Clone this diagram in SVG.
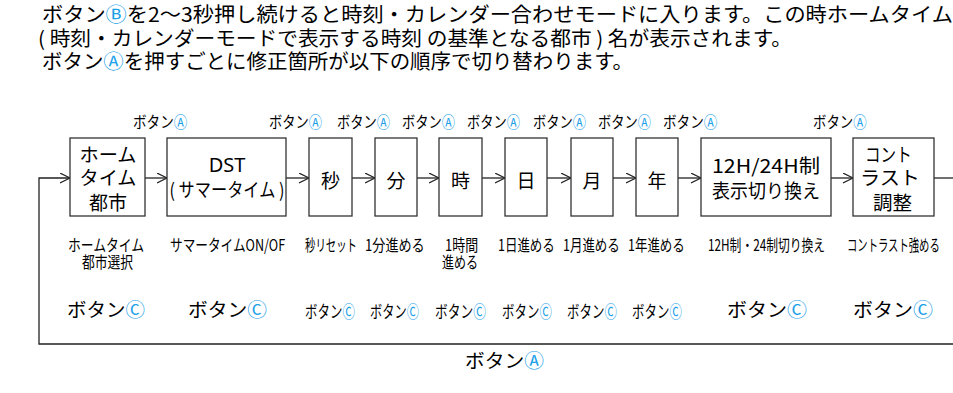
<svg xmlns="http://www.w3.org/2000/svg" width="953" height="393" viewBox="0 0 953 393">
<defs>
<marker id="ah" markerUnits="userSpaceOnUse" markerWidth="12" markerHeight="12" refX="10" refY="5" orient="auto">
<path d="M0,0 L10,5 L0,10" fill="none" stroke="#222" stroke-width="1.2"/>
</marker>
</defs>
<style>
text{font-family:"Noto Sans CJK JP","Liberation Sans",sans-serif;fill:#000}
.top{font-size:20px}
.node{font-size:19px;text-anchor:middle}
.nl{font-size:19px}
.box{fill:#fff;stroke:#333;stroke-width:1.3}
.ln{fill:none;stroke:#222;stroke-width:1.3}
.bA{font-size:16px}
.lab{font-size:16px}
.bC{font-size:19px}
.bCs{font-size:17px}
.c{fill:#1DA1E8}
</style>
<rect width="953" height="393" fill="#fff"/>
<g id="intro">
<text class="top" x="42" y="22" textLength="911" lengthAdjust="spacingAndGlyphs">ボタン<tspan class="c">Ⓑ</tspan>を2～3秒押し続けると時刻・カレンダー合わせモードに入ります。この時ホームタイム</text>
<text class="top" x="38" y="46" textLength="754" lengthAdjust="spacingAndGlyphs">( 時刻・カレンダーモードで表示する時刻 の基準となる都市 ) 名が表示されます。</text>
<text class="top" x="42" y="69" textLength="591" lengthAdjust="spacingAndGlyphs">ボタン<tspan class="c">Ⓐ</tspan>を押すごとに修正箇所が以下の順序で切り替わります。</text>
</g>
<g id="connectors">
<path class="ln" d="M953,344 H39 V178 H70" marker-end="url(#ah)"/>
<line class="ln" x1="145" y1="178" x2="167" y2="178" marker-end="url(#ah)"/>
<line class="ln" x1="286" y1="178" x2="309" y2="178" marker-end="url(#ah)"/>
<line class="ln" x1="352" y1="178" x2="375" y2="178" marker-end="url(#ah)"/>
<line class="ln" x1="417" y1="178" x2="439" y2="178" marker-end="url(#ah)"/>
<line class="ln" x1="482" y1="178" x2="505" y2="178" marker-end="url(#ah)"/>
<line class="ln" x1="547" y1="178" x2="571" y2="178" marker-end="url(#ah)"/>
<line class="ln" x1="613" y1="178" x2="636" y2="178" marker-end="url(#ah)"/>
<line class="ln" x1="678" y1="178" x2="701" y2="178" marker-end="url(#ah)"/>
<line class="ln" x1="831" y1="178" x2="853" y2="178" marker-end="url(#ah)"/>
<line class="ln" x1="934" y1="178" x2="953" y2="178"/>
<g id="labels-A">
<text class="bA" transform="translate(133,128) scale(0.85,1)">ボタン<tspan class="c">Ⓐ</tspan></text>
<text class="bA" transform="translate(269,128) scale(0.83,1)">ボタン<tspan class="c">Ⓐ</tspan></text>
<text class="bA" transform="translate(337,128) scale(0.83,1)">ボタン<tspan class="c">Ⓐ</tspan></text>
<text class="bA" transform="translate(402,128) scale(0.83,1)">ボタン<tspan class="c">Ⓐ</tspan></text>
<text class="bA" transform="translate(467,128) scale(0.83,1)">ボタン<tspan class="c">Ⓐ</tspan></text>
<text class="bA" transform="translate(533,128) scale(0.83,1)">ボタン<tspan class="c">Ⓐ</tspan></text>
<text class="bA" transform="translate(598,128) scale(0.83,1)">ボタン<tspan class="c">Ⓐ</tspan></text>
<text class="bA" transform="translate(663,128) scale(0.85,1)">ボタン<tspan class="c">Ⓐ</tspan></text>
<text class="bA" transform="translate(813,128) scale(0.84,1)">ボタン<tspan class="c">Ⓐ</tspan></text>
<text class="bC" x="465" y="368" textLength="79" lengthAdjust="spacingAndGlyphs">ボタン<tspan class="c">Ⓐ</tspan></text>
</g>
</g>
<g id="n-home">
<rect class="box" x="70" y="138" width="75" height="78"/>
<text class="node" x="108" y="162" textLength="57" lengthAdjust="spacingAndGlyphs">ホーム</text>
<text class="node" x="108" y="185" textLength="57" lengthAdjust="spacingAndGlyphs">タイム</text>
<text class="node" x="108" y="210">都市</text>
<text class="lab" transform="translate(68,251) scale(0.80,1)">ホームタイム</text>
<text class="lab" transform="translate(82,268) scale(0.80,1)">都市選択</text>
<text class="bC" x="67" y="317" textLength="78" lengthAdjust="spacingAndGlyphs">ボタン<tspan class="c">Ⓒ</tspan></text>
</g>
<g id="n-dst">
<rect class="box" x="167" y="138" width="119" height="78"/>
<text class="node" x="227" y="172" style="font-family:'Noto Sans','Liberation Sans',sans-serif;font-size:20px">DST</text>
<text class="node" x="227" y="197" textLength="115" lengthAdjust="spacingAndGlyphs">( サマータイム )</text>
<text class="lab" transform="translate(170,251) scale(0.79,1)">サマータイムON/OF</text>
<text class="bC" x="188" y="317" textLength="79" lengthAdjust="spacingAndGlyphs">ボタン<tspan class="c">Ⓒ</tspan></text>
</g>
<g id="n-sec">
<rect class="box" x="309" y="138" width="43" height="78"/>
<text class="node" x="330.5" y="188">秒</text>
<text class="lab" transform="translate(305,251) scale(0.65,1)">秒リセット</text>
<text class="bCs" transform="translate(305,318) scale(0.735,1)">ボタン<tspan class="c">Ⓒ</tspan></text>
</g>
<g id="n-min">
<rect class="box" x="375" y="138" width="42" height="78"/>
<text class="node" x="396" y="188">分</text>
<text class="lab" transform="translate(365,251) scale(0.82,1)">1分進める</text>
<text class="bCs" transform="translate(370,318) scale(0.72,1)">ボタン<tspan class="c">Ⓒ</tspan></text>
</g>
<g id="n-hour">
<rect class="box" x="439" y="138" width="43" height="78"/>
<text class="node" x="460.5" y="188">時</text>
<text class="lab" transform="translate(445,251) scale(0.81,1)">1時間</text>
<text class="lab" transform="translate(442,268) scale(0.75,1)">進める</text>
<text class="bCs" transform="translate(435,318) scale(0.75,1)">ボタン<tspan class="c">Ⓒ</tspan></text>
</g>
<g id="n-day">
<rect class="box" x="505" y="138" width="42" height="78"/>
<text class="node" x="526" y="188">日</text>
<text class="lab" transform="translate(498,251) scale(0.78,1)">1日進める</text>
<text class="bCs" transform="translate(502,318) scale(0.735,1)">ボタン<tspan class="c">Ⓒ</tspan></text>
</g>
<g id="n-month">
<rect class="box" x="571" y="138" width="42" height="78"/>
<text class="node" x="592" y="188">月</text>
<text class="lab" transform="translate(563,251) scale(0.78,1)">1月進める</text>
<text class="bCs" transform="translate(567,318) scale(0.735,1)">ボタン<tspan class="c">Ⓒ</tspan></text>
</g>
<g id="n-year">
<rect class="box" x="636" y="138" width="42" height="78"/>
<text class="node" x="657" y="188">年</text>
<text class="lab" transform="translate(628,251) scale(0.78,1)">1年進める</text>
<text class="bCs" transform="translate(632,318) scale(0.735,1)">ボタン<tspan class="c">Ⓒ</tspan></text>
</g>
<g id="n-1224">
<rect class="box" x="701" y="138" width="130" height="78"/>
<text class="node" x="766" y="173" textLength="108" lengthAdjust="spacingAndGlyphs">12H/24H制</text>
<text class="node" x="766" y="198" textLength="108" lengthAdjust="spacingAndGlyphs">表示切り換え</text>
<text class="lab" transform="translate(708,251) scale(0.736,1)">12H制・24制切り換え</text>
<text class="bC" x="727" y="317" textLength="80" lengthAdjust="spacingAndGlyphs">ボタン<tspan class="c">Ⓒ</tspan></text>
</g>
<g id="n-contrast">
<rect class="box" x="853" y="138" width="81" height="78"/>
<text class="nl" transform="translate(865,162) scale(0.82,1)" letter-spacing="0">コント</text>
<text class="nl" x="860" y="185" textLength="60" lengthAdjust="spacingAndGlyphs">ラスト</text>
<text class="nl" x="873" y="210" textLength="39" lengthAdjust="spacingAndGlyphs">調整</text>
<text class="lab" transform="translate(847,251) scale(0.646,1)">コントラスト強める</text>
<text class="bC" x="853" y="317" textLength="80" lengthAdjust="spacingAndGlyphs">ボタン<tspan class="c">Ⓒ</tspan></text>
</g>
</svg>
